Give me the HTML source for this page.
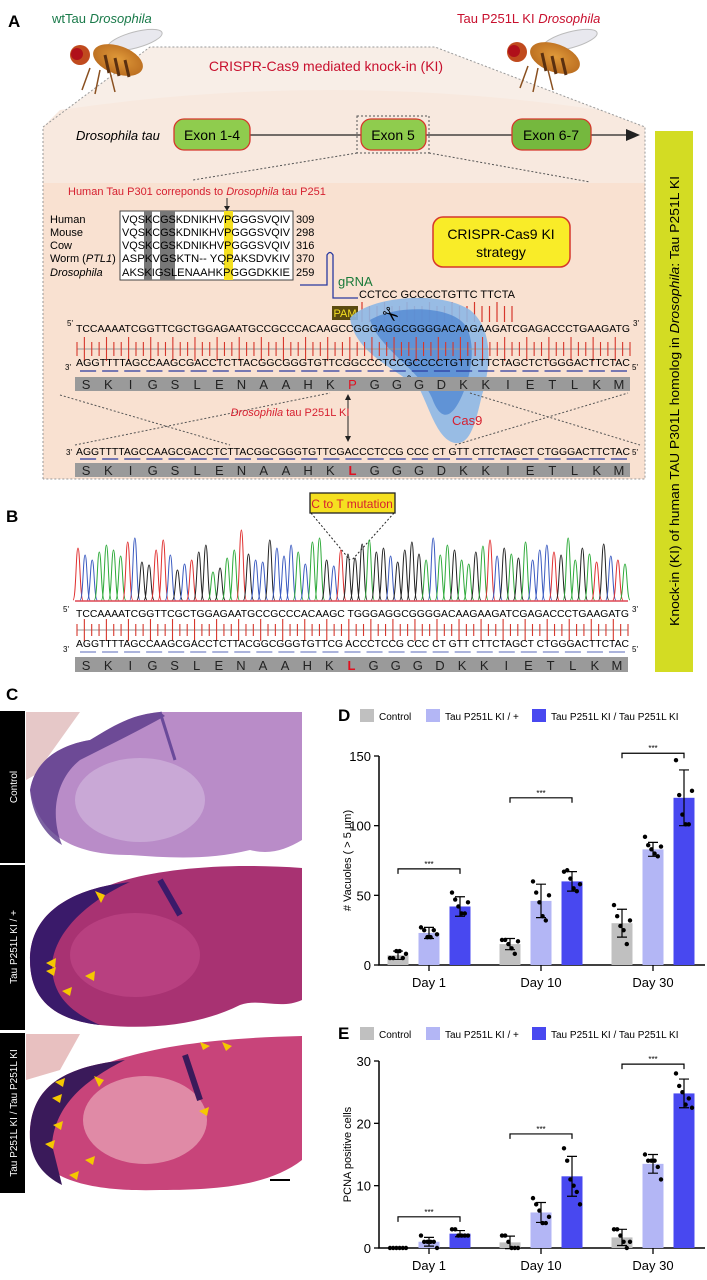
<!DOCTYPE html>
<html><head><meta charset="utf-8"><style>
html,body{margin:0;padding:0;background:#fff;}
svg{display:block;font-family:"Liberation Sans",sans-serif;}
</style></head><body>
<svg id="fig" width="707" height="1280" viewBox="0 0 707 1280" xmlns="http://www.w3.org/2000/svg">
<defs>
<radialGradient id="flyBody" cx="0.5" cy="0.45" r="0.6"><stop offset="0" stop-color="#e09a3a"/><stop offset="1" stop-color="#b86a1e"/></radialGradient>
</defs>

<g>
<text x="8" y="27" font-size="17" font-weight="bold">A</text>
<text x="52" y="23" font-size="13" fill="#1a7a4a">wtTau <tspan font-style="italic">Drosophila</tspan></text>
<text x="457" y="23" font-size="13" fill="#c8102e">Tau P251L KI <tspan font-style="italic">Drosophila</tspan></text>

<polygon points="43,180 43,127 150,47 435,47 645,127 645,180" fill="#f8eee7"/>
<path d="M60,110 Q330,70 600,110 L645,127 L645,183 L43,183 L43,127Z" fill="#f8e9df"/>
<rect x="43" y="183" width="602" height="296" fill="#f9e1d1"/>
<polyline points="43,479 43,127 150,47 435,47 645,127 645,479 43,479" fill="none" stroke="#999" stroke-dasharray="2,2"/>

<g>
<ellipse cx="135" cy="40" rx="28" ry="8" fill="#e8e8ee" stroke="#bbb" transform="rotate(-15 135 40)"/>
<ellipse cx="118" cy="60" rx="26" ry="14" fill="url(#flyBody)" transform="rotate(20 118 60)"/>
<path d="M105,55 l4,18 M115,58 l4,18 M125,60 l4,17" stroke="#5a3010" stroke-width="3"/>
<circle cx="80" cy="55" r="10" fill="#c04a1e"/><circle cx="77" cy="54" r="6" fill="#b0101a"/>
<path d="M90,68 l-8,22 M100,70 l-5,24 M110,72 l5,20" stroke="#8a5020" stroke-width="1.5" fill="none"/>
</g>
<g>
<ellipse cx="570" cy="40" rx="28" ry="8" fill="#e8e8ee" stroke="#bbb" transform="rotate(-15 570 40)"/>
<ellipse cx="555" cy="58" rx="26" ry="14" fill="url(#flyBody)" transform="rotate(20 555 58)"/>
<path d="M542,53 l4,18 M552,56 l4,18 M562,58 l4,17" stroke="#5a3010" stroke-width="3"/>
<circle cx="517" cy="52" r="10" fill="#c04a1e"/><circle cx="514" cy="51" r="6" fill="#b0101a"/>
<path d="M528,66 l-8,22 M538,68 l-5,24 M548,70 l5,20" stroke="#8a5020" stroke-width="1.5" fill="none"/>
</g>
<text x="326" y="71" font-size="14" fill="#c8102e" text-anchor="middle">CRISPR-Cas9 mediated knock-in (KI)</text>

<text x="76" y="140" font-size="13" font-style="italic">Drosophila tau</text>
<line x1="250" y1="135" x2="630" y2="135" stroke="#222" stroke-width="1.3"/>
<polygon points="640,135 626,129 626,141" fill="#222"/>
<rect x="357" y="116" width="72" height="37" fill="none" stroke="#555" stroke-dasharray="2,2"/>
<rect x="174" y="119" width="76" height="31" rx="10" fill="#8fcc4e" stroke="#d6372c" stroke-width="1.3"/>
<text x="212" y="140" font-size="14" text-anchor="middle">Exon 1-4</text>
<rect x="361" y="119" width="65" height="31" rx="10" fill="#8fcc4e" stroke="#d6372c" stroke-width="1.3"/>
<text x="393" y="140" font-size="14" text-anchor="middle">Exon 5</text>
<rect x="512" y="119" width="79" height="31" rx="10" fill="#75b83e" stroke="#d6372c" stroke-width="1.3"/>
<text x="551" y="140" font-size="14" text-anchor="middle">Exon 6-7</text>
<line x1="357" y1="153" x2="193" y2="180" stroke="#555" stroke-dasharray="2,2"/>
<line x1="429" y1="153" x2="590" y2="182" stroke="#555" stroke-dasharray="2,2"/>

<text x="68" y="195" font-size="11" fill="#d62030">Human Tau P301 correponds to <tspan font-style="italic">Drosophila</tspan> tau P251</text>
<line x1="227" y1="198" x2="227" y2="208" stroke="#222"/><polygon points="227,211 224,206 230,206" fill="#222"/>
<rect x="120" y="211" width="173" height="69" fill="#fff" stroke="#444"/>
<rect x="144" y="211" width="8" height="69" fill="#777"/>
<rect x="160" y="211" width="15" height="69" fill="#777"/>
<rect x="224" y="211" width="9" height="69" fill="#f5e020"/>
<g font-size="11">
<text x="50" y="223">Human</text><text x="50" y="236">Mouse</text><text x="50" y="249">Cow</text><text x="50" y="262">Worm (<tspan font-style="italic">PTL1</tspan>)</text><text x="50" y="276" font-style="italic">Drosophila</text>
<text x="122" y="223" textLength="168" lengthAdjust="spacingAndGlyphs">VQSKCGSKDNIKHVPGGGSVQIV</text>
<text x="122" y="236" textLength="168" lengthAdjust="spacingAndGlyphs">VQSKCGSKDNIKHVPGGGSVQIV</text>
<text x="122" y="249" textLength="168" lengthAdjust="spacingAndGlyphs">VQSKCGSKDNIKHVPGGGSVQIV</text>
<text x="122" y="262" textLength="168" lengthAdjust="spacingAndGlyphs">ASPKVGSKTN-- YQPAKSDVKIV</text>
<text x="122" y="276" textLength="168" lengthAdjust="spacingAndGlyphs">AKSKIGSLENAAHKPGGGDKKIE</text>
<text x="296" y="223">309</text><text x="296" y="236">298</text><text x="296" y="249">316</text><text x="296" y="262">370</text><text x="296" y="276">259</text>
</g>
<rect x="433" y="217" width="137" height="50" rx="10" fill="#f9ec28" stroke="#d6372c" stroke-width="1.5"/>
<text x="501" y="239" font-size="14" text-anchor="middle">CRISPR-Cas9 KI</text>
<text x="501" y="257" font-size="14" text-anchor="middle">strategy</text>

<path d="M300,285 L327,285 L327,255 Q330,250 333,255 L333,298 L358,298" fill="none" stroke="#2a3aa0" stroke-width="1.3"/>
<text x="338" y="286" font-size="13" fill="#1a7a3a">gRNA</text>
<text x="359" y="298" font-size="11" textLength="156" lengthAdjust="spacingAndGlyphs">CCTCC GCCCCTGTTC TTCTA</text>
<rect x="332" y="306" width="26" height="14" fill="#5a4a10"/>
<text x="345" y="317" font-size="11" fill="#f5e020" text-anchor="middle">PAM</text>
<g id="pamTicks" stroke="#d6372c" stroke-width="1.2"></g>

<path d="M350,318 C370,296 440,290 470,310 C495,330 490,370 482,395 C475,425 470,445 455,443 C438,440 430,410 420,390 C400,370 355,355 350,318Z" fill="#8db8e6" opacity="0.9"/>
<path d="M370,320 C395,305 450,305 465,325 C478,345 470,380 460,400 C450,420 440,420 432,398 C420,370 380,350 370,320Z" fill="#4d86d2" opacity="0.75"/>
<text x="452" y="425" font-size="13" fill="#d62030">Cas9</text>
<text x="380" y="322" font-size="20" transform="rotate(40 390 318)">✂</text>
<text x="400" y="392" font-size="20" transform="rotate(60 410 385)">✂</text>

<text x="67" y="326" font-size="8">5'</text><text x="633" y="326" font-size="8">3'</text>
<text x="76" y="332" font-size="10" textLength="554" lengthAdjust="spacingAndGlyphs">TCCAAAATCGGTTCGCTGGAGAATGCCGCCCACAAGCCGGGAGGCGGGGACAAGAAGATCGAGACCCTGAAGATG</text>
<g id="ticksA" stroke="#d6372c" stroke-width="1.1"></g>
<text x="65" y="370" font-size="8">3'</text><text x="632" y="370" font-size="8">5'</text>
<text x="76" y="366" font-size="10" textLength="554" lengthAdjust="spacingAndGlyphs">AGGTTTTAGCCAAGCGACCTCTTACGGCGGGTGTTCGGCCCTCCGCCCCTGTTCTTCTAGCTCTGGGACTTCTAC</text>
<g id="dashA" stroke="#2a3aa0" stroke-width="1.3"></g>
<rect x="75" y="377" width="555" height="14" fill="#9a9a9a"/>
<g id="protA" font-size="13" fill="#222"></g>

<line x1="60" y1="395" x2="230" y2="445" stroke="#555" stroke-dasharray="2,2"/>
<line x1="75" y1="445" x2="330" y2="393" stroke="#555" stroke-dasharray="2,2"/>
<line x1="470" y1="393" x2="640" y2="445" stroke="#555" stroke-dasharray="2,2"/>
<line x1="455" y1="445" x2="628" y2="393" stroke="#555" stroke-dasharray="2,2"/>
<line x1="348" y1="396" x2="348" y2="440" stroke="#222"/>
<polygon points="348,394 345,400 351,400" fill="#222"/><polygon points="348,442 345,436 351,436" fill="#222"/>
<text x="290" y="416" font-size="11" fill="#d62030" text-anchor="middle"><tspan font-style="italic">Drosophila</tspan> tau P251L KI</text>

<text x="66" y="455" font-size="8">3'</text><text x="632" y="455" font-size="8">5'</text>
<text x="76" y="455" font-size="10" textLength="554" lengthAdjust="spacingAndGlyphs">AGGTTTTAGCCAAGCGACCTCTTACGGCGGGTGTTCGACCCTCCG CCC CT GTT CTTCTAGCT CTGGGACTTCTAC</text>
<g id="dashA2" stroke="#2a3aa0" stroke-width="1.3"></g>
<rect x="75" y="463" width="555" height="14" fill="#9a9a9a"/>
<g id="protA2" font-size="13" fill="#222"></g>
</g>

<rect x="655" y="131" width="38" height="541" fill="#d3dc23"/>
<text transform="translate(679,401) rotate(-90)" font-size="12.5" text-anchor="middle" textLength="450" lengthAdjust="spacingAndGlyphs">Knock-in (KI) of human TAU P301L homolog in <tspan font-style="italic">Drosophila</tspan>: Tau P251L KI</text>

<g>
<text x="6" y="522" font-size="17" font-weight="bold">B</text>
<rect x="310" y="493" width="85" height="20" fill="#f5e020" stroke="#222" stroke-width="1.3"/>
<text x="352" y="508" font-size="12" fill="#d62030" text-anchor="middle">C to T mutation</text>
<line x1="311" y1="513" x2="350" y2="560" stroke="#222" stroke-dasharray="2,2"/>
<line x1="394" y1="513" x2="352" y2="560" stroke="#222" stroke-dasharray="2,2"/>
<g id="chromo" fill="none" stroke-width="1"></g>
<line x1="75" y1="601" x2="628" y2="601" stroke="#d62030" stroke-width="1.2"/>
<text x="63" y="612" font-size="8">5'</text><text x="632" y="612" font-size="8">3'</text>
<text x="76" y="617" font-size="10" textLength="553" lengthAdjust="spacingAndGlyphs">TCCAAAATCGGTTCGCTGGAGAATGCCGCCCACAAGC TGGGAGGCGGGGACAAGAAGATCGAGACCCTGAAGATG</text>
<g id="ticksB" stroke="#d6372c" stroke-width="1.1"></g>
<text x="63" y="652" font-size="8">3'</text><text x="632" y="652" font-size="8">5'</text>
<text x="76" y="647" font-size="10" textLength="553" lengthAdjust="spacingAndGlyphs">AGGTTTTAGCCAAGCGACCTCTTACGGCGGGTGTTCG ACCCTCCG CCC CT GTT CTTCTAGCT CTGGGACTTCTAC</text>
<g id="dashB" stroke="#7a88c8" stroke-width="1.3"></g>
<rect x="75" y="657" width="553" height="15" fill="#9a9a9a"/>
<g id="protB" font-size="13" fill="#222"></g>
</g>

<g>
<text x="6" y="700" font-size="17" font-weight="bold">C</text>
<rect x="0" y="711" width="25" height="152" fill="#000"/>
<rect x="0" y="865" width="25" height="165" fill="#000"/>
<rect x="0" y="1033" width="25" height="160" fill="#000"/>
<text transform="translate(17,787) rotate(-90)" font-size="10" fill="#fff" text-anchor="middle">Control</text>
<text transform="translate(17,947) rotate(-90)" font-size="10" fill="#fff" text-anchor="middle">Tau P251L KI / +</text>
<text transform="translate(17,1113) rotate(-90)" font-size="10" fill="#fff" text-anchor="middle">Tau P251L KI / Tau P251L KI</text>

<g>
<rect x="25" y="711" width="277" height="152" fill="#fff"/>
<path d="M26,712 L80,712 L35,775 L26,780Z" fill="#e6c8c8"/>
<path d="M30,790 C35,760 60,745 90,740 C115,725 130,715 160,712 L302,712 L302,840 C285,850 270,855 250,850 C210,860 170,858 130,855 C80,855 40,840 30,790Z" fill="#b98cc8"/>
<path d="M30,790 C35,760 60,745 90,740 C115,725 130,715 160,712 L165,716 C140,730 110,745 80,760 C55,780 50,815 62,845 C45,835 32,815 30,790Z" fill="#5a3a8a" opacity="0.8"/>
<ellipse cx="140" cy="800" rx="65" ry="42" fill="#c9a8d6"/>
<line x1="160" y1="712" x2="175" y2="760" stroke="#6a4a9a" stroke-width="3"/>
</g>
<g>
<rect x="25" y="865" width="277" height="165" fill="#fff"/>
<path d="M30,960 C30,920 60,895 110,885 C150,870 220,862 302,868 L302,1000 C280,1010 260,998 240,1005 C200,1025 150,1030 100,1025 C55,1020 30,1000 30,960Z" fill="#a83272"/>
<path d="M30,960 C30,920 60,895 110,885 L130,882 C90,900 55,930 52,965 C52,995 70,1012 100,1025 C55,1020 30,1000 30,960Z" fill="#3a1a6a"/>
<ellipse cx="135" cy="955" rx="65" ry="42" fill="#b84080"/>
<path d="M160,880 L180,915" stroke="#3a1a6a" stroke-width="6"/>
</g>
<g>
<rect x="25" y="1033" width="277" height="160" fill="#fff"/>
<path d="M26,1034 L80,1034 L60,1070 L26,1080Z" fill="#e8c0c0"/>
<path d="M30,1140 C28,1090 60,1070 110,1062 C160,1045 220,1038 302,1036 L302,1160 C270,1185 220,1190 160,1190 C90,1192 40,1180 30,1140Z" fill="#c8447a"/>
<path d="M30,1140 C28,1090 60,1070 110,1062 L125,1060 C85,1080 55,1105 52,1145 L62,1185 C42,1175 32,1160 30,1140Z" fill="#3a1a5a"/>
<ellipse cx="145" cy="1120" rx="62" ry="44" fill="#e08aa6"/>
<path d="M185,1055 L200,1100" stroke="#3a1a5a" stroke-width="6"/>
<line x1="270" y1="1180" x2="290" y2="1180" stroke="#000" stroke-width="2"/>
</g>
<g fill="#f5c800">
<polygon points="95,891 105,895 101,903"/>
<polygon points="46,963 56,958 55,968"/><polygon points="46,971 56,967 54,976"/><polygon points="85,976 95,971 94,981"/><polygon points="62,991 72,987 70,996"/>
<polygon points="94,1076 104,1080 99,1087"/><polygon points="55,1082 65,1078 63,1087"/><polygon points="52,1098 62,1094 60,1103"/><polygon points="53,1125 63,1121 61,1130"/><polygon points="45,1144 55,1140 53,1149"/><polygon points="85,1160 95,1156 93,1165"/><polygon points="69,1175 79,1171 77,1180"/><polygon points="200,1042 210,1046 203,1050"/><polygon points="222,1042 232,1046 226,1051"/><polygon points="199,1111 209,1107 207,1116"/>
</g>
</g>

<g id="chartD"></g>
<g id="chartE"></g>
</svg>

<script>
const days = ["Day 1", "Day 10", "Day 30"];
const groups = ["Control", "Tau P251L KI / +", "Tau P251L KI / Tau P251L KI"];
const vacMeanControl = [7, 15, 30];
const vacMeanHet = [23, 46, 83];
const vacMeanHomo = [42, 60, 120];
const vacSdControl = [3, 4, 10];
const vacSdHet = [4, 12, 5];
const vacSdHomo = [7, 7, 20];
const vacPtsControl = [[5,5,10,10,5,8],[18,18,15,12,8,17],[43,35,28,25,15,32]];
const vacPtsHet = [[27,25,20,20,25,22],[60,52,45,35,32,50],[92,86,83,80,78,85]];
const vacPtsHomo = [[52,47,42,37,37,45],[67,68,62,55,53,58],[147,122,108,101,101,125]];
const vacTicks = [0, 50, 100, 150];
const vacSig = [69, 120, 152];
const pcnaMeanControl = [0, 0.9, 1.7];
const pcnaMeanHet = [1, 5.7, 13.5];
const pcnaMeanHomo = [2.3, 11.5, 24.8];
const pcnaSdControl = [0, 1, 1.3];
const pcnaSdHet = [0.7, 1.6, 1.5];
const pcnaSdHomo = [0.5, 3.2, 2.3];
const pcnaPtsControl = [[0,0,0,0,0,0],[2,2,1,0,0,0],[3,3,2,1,0,1]];
const pcnaPtsHet = [[2,1,1,1,1,0],[8,7,6,4,4,5],[15,14,14,14,13,11]];
const pcnaPtsHomo = [[3,3,2,2,2,2],[16,14,11,10,9,7],[28,26,25,23,24,22.5]];
const pcnaTicks = [0, 10, 20, 30];
const pcnaSig = [5, 18.3, 29.5];

const NS = "http://www.w3.org/2000/svg";
function mk(tag, attrs, parent) {
  const e = document.createElementNS(NS, tag);
  for (const k in attrs) e.setAttribute(k, attrs[k]);
  parent.appendChild(e);
  return e;
}
const colors = ["#c0c0c0", "#b3b6f5", "#4848f0"];

function drawChart(g, cfg) {
  const y = v => cfg.y0 - (v / cfg.max) * cfg.h;
  const xc = (d, s) => 429 + d * 112 + (s - 1) * 31;
  const lbl = mk("text", {x: 338, y: cfg.legY + 5, "font-size": 17, "font-weight": "bold"}, g);
  lbl.textContent = cfg.label;
  
  
  const legX = [360, 426, 532];
  groups.forEach((name, i) => {
    const r = mk("rect", {x: legX[i], y: cfg.legY - 7, width: 14, height: 13, fill: colors[i]}, g);
    
    
    const t = mk("text", {x: legX[i] + 19, y: cfg.legY + 4, "font-size": 10}, g);
    t.textContent = name;
    
    
  });
  const ax = mk("path", {d: `M379,${y(cfg.max)} L379,${cfg.y0} L705,${cfg.y0}`, fill: "none", stroke: "#000", "stroke-width": 1.5}, g);
  
  
  cfg.ticks.forEach(v => {
    mk("line", {x1: 374, x2: 379, y1: y(v), y2: y(v), stroke: "#000", "stroke-width": 1.3}, g);
    const t = mk("text", {x: 371, y: y(v) + 5, "font-size": 13, "text-anchor": "end"}, g);
    t.textContent = v;
    
    
  });
  const yt = mk("text", {transform: `translate(351,${cfg.y0 - cfg.h / 2}) rotate(-90)`, "font-size": 11, "text-anchor": "middle"}, g);
  yt.textContent = cfg.title;
  
  
  days.forEach((d, di) => {
    mk("line", {x1: xc(di, 1), x2: xc(di, 1), y1: cfg.y0, y2: cfg.y0 + 6, stroke: "#000", "stroke-width": 1.3}, g);
    const t = mk("text", {x: xc(di, 1), y: cfg.y0 + 22, "font-size": 13, "text-anchor": "middle"}, g);
    t.textContent = d;
    
    
    for (let s = 0; s < 3; s++) {
      const m = cfg.means[s][di], sd = cfg.sds[s][di], x = xc(di, s);
      const b = mk("rect", {x: x - 10.5, y: y(m), width: 21, height: cfg.y0 - y(m), fill: colors[s]}, g);
      
      
      if (sd > 0) {
        mk("path", {d: `M${x},${y(m + sd)} L${x},${y(m - sd)} M${x - 5},${y(m + sd)} L${x + 5},${y(m + sd)} M${x - 5},${y(m - sd)} L${x + 5},${y(m - sd)}`, stroke: "#000", "stroke-width": 1.2, fill: "none"}, g);
      }
      cfg.pts[s][di].forEach((p, k) => {
        const c = mk("circle", {cx: x - 8 + k * 3.2, cy: y(p), r: 2.2, fill: "#000"}, g);
        
        
      });
    }
    const sy = y(cfg.sig[di]);
    const br = mk("path", {d: `M${xc(di,0)},${sy + 5} L${xc(di,0)},${sy} L${xc(di,2)},${sy} L${xc(di,2)},${sy + 5}`, fill: "none", stroke: "#000", "stroke-width": 1.2}, g);
    
    
    const st = mk("text", {x: xc(di, 1), y: sy - 2, "font-size": 8, "text-anchor": "middle"}, g);
    st.textContent = "***";
  });
}
drawChart(document.getElementById("chartD"), {label: "D", legY: 716, y0: 965, h: 209, max: 150, ticks: vacTicks,
  title: "# Vacuoles ( > 5 μm)", means: [vacMeanControl, vacMeanHet, vacMeanHomo], sds: [vacSdControl, vacSdHet, vacSdHomo],
  pts: [vacPtsControl, vacPtsHet, vacPtsHomo], sig: vacSig});
drawChart(document.getElementById("chartE"), {label: "E", legY: 1034, y0: 1248, h: 187, max: 30, ticks: pcnaTicks,
  title: "PCNA positive cells", means: [pcnaMeanControl, pcnaMeanHet, pcnaMeanHomo], sds: [pcnaSdControl, pcnaSdHet, pcnaSdHomo],
  pts: [pcnaPtsControl, pcnaPtsHet, pcnaPtsHomo], sig: pcnaSig});

function ticks(gid, x0, x1, yTop, yBot, n) {
  const g = document.getElementById(gid);
  mk("line", {x1: x0, x2: x1, y1: (yTop + yBot) / 2, y2: (yTop + yBot) / 2, stroke: "#999", "stroke-width": 1}, g);
  for (let i = 0; i < n; i++) {
    const x = x0 + (x1 - x0) * i / (n - 1);
    const long = i % 3 === 1;
    mk("line", {x1: x, x2: x, y1: long ? yTop - 2 : yTop + 3, y2: long ? yBot + 2 : yBot - 3}, g);
  }
}
ticks("ticksA", 77, 630, 339, 359, 76);
ticks("ticksB", 77, 628, 621, 639, 76);
(function(){
  const g = document.getElementById("pamTicks");
  for (let i = 0; i < 21; i++) { const x = 362 + i * 7.5; mk("line", {x1: x, x2: x, y1: i % 3 ? 306 : 302, y2: 322}, g); }
})();
function dashes(gid, x0, x1, yy) {
  const g = document.getElementById(gid);
  const n = 25, w = (x1 - x0) / n;
  for (let i = 0; i < n; i++) mk("line", {x1: x0 + i * w + 3, x2: x0 + (i + 1) * w - 3, y1: yy, y2: yy}, g);
}
dashes("dashA", 77, 630, 371);
dashes("dashA2", 77, 630, 459);
dashes("dashB", 77, 628, 652);
const prot = "SKIGSLENAAHKPGGGDKKIETLKM";
function protein(gid, x0, x1, yy, mutIdx, mutChar) {
  const g = document.getElementById(gid);
  const w = (x1 - x0) / 25;
  for (let i = 0; i < 25; i++) {
    const t = mk("text", {x: x0 + w * (i + 0.5), y: yy, "text-anchor": "middle"}, g);
    if (i === mutIdx) { t.setAttribute("fill", "#e01020"); if (mutChar) { t.textContent = mutChar; t.setAttribute("font-weight", "bold"); continue; } }
    t.textContent = prot[i];
  }
}
protein("protA", 75, 630, 389, 12, null);
protein("protA2", 75, 630, 475, 12, "L");
protein("protB", 75, 628, 670, 12, "L");

const chromoBases = "TCCAAAATCGGTTCGCTGGAGAATGCCGCCCACAAGCTGGGAGGCGGGGACAAGAAGATCGAGACCCTGAAGATGCTA";
const chromoHeights = [52,45,40,48,55,50,44,58,62,38,35,50,60,45,30,36,40,48,55,28,32,42,50,70,46,40,38,60,52,44,55,48,36,58,62,40,34,50,46,42,56,60,48,52,44,38,50,58,46,40,62,45,55,50,40,36,48,54,60,44,52,46,42,58,40,50,55,48,45,62,40,52,46,38,56,44,40,36,30];
(function(){
  const g = document.getElementById("chromo");
  const col = {A: "#2eaa3a", C: "#3a5ac0", G: "#222", T: "#e03030"};
  const n = chromoBases.length, x0 = 78, x1 = 625, base = 600;
  for (let i = 0; i < n; i++) {
    const cx = x0 + (x1 - x0) * i / (n - 1), h = chromoHeights[i % chromoHeights.length];
    const b = chromoBases[i];
    mk("path", {d: `M${cx - 5},${base} C${cx - 2},${base} ${cx - 2},${base - h} ${cx},${base - h} C${cx + 2},${base - h} ${cx + 2},${base} ${cx + 5},${base}`, stroke: col[b]}, g);
  }
})();
</script>
</body></html>
